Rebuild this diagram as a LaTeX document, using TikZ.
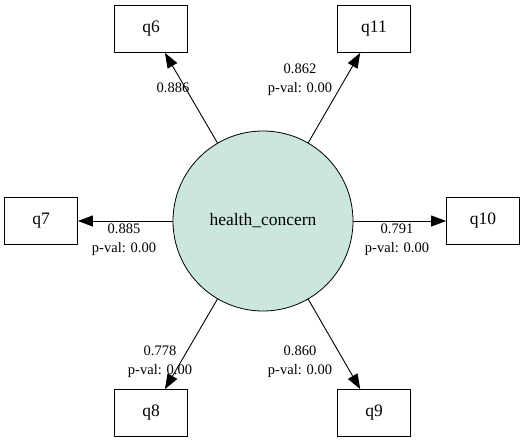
\documentclass[tikz,border=0pt]{standalone}
\usepackage{fontspec}
\setmainfont{Liberation Serif}
\usetikzlibrary{arrows.meta}
\definecolor{latentFill}{RGB}{203,229,223}

\begin{document}
\begin{tikzpicture}[x=1pt,y=-1pt,
        box/.style={draw,line width=0.8pt,inner sep=0pt,minimum width=73pt,minimum height=47pt,font=\fontsize{17.5}{20}\selectfont},
        latent/.style={draw,circle,line width=0.8pt,fill=latentFill,inner sep=0pt,minimum size=180pt,font=\fontsize{17.5}{20}\selectfont},
        lbl/.style={align=center,inner sep=0pt,font=\fontsize{14.5}{19}\selectfont},
        arrow/.style={-{Triangle[length=15pt,width=11pt]},line width=0.9pt}
      ]
        \useasboundingbox (0,0) rectangle (526,443);
        \node[latent] (hc) at (263,221) {health\_concern};
        \node[box] (q6) at (151,29) {q6};
        \node[box] (q11) at (374,29) {q11};
        \node[box] (q7) at (41,221) {q7};
        \node[box] (q10) at (483,221) {q10};
        \node[box] (q8) at (151,413) {q8};
        \node[box] (q9) at (374,413) {q9};
        \draw[arrow] (hc) -- (q6);
        \draw[arrow] (hc) -- (q11);
        \draw[arrow] (hc) -- (q7);
        \draw[arrow] (hc) -- (q10);
        \draw[arrow] (hc) -- (q8);
        \draw[arrow] (hc) -- (q9);
        \node[lbl] (l6) at (173,88) {0.886};
        \node[lbl] (l11) at (300,80) {0.862\\p-val: 0.00};
        \node[lbl] (l7) at (124,240) {0.885\\p-val: 0.00};
        \node[lbl] (l10) at (397,240) {0.791\\p-val: 0.00};
        \node[lbl] (l8) at (160,362) {0.778\\p-val: 0.00};
        \node[lbl] (l9) at (300,362) {0.860\\p-val: 0.00};
      \end{tikzpicture}
\end{document}
